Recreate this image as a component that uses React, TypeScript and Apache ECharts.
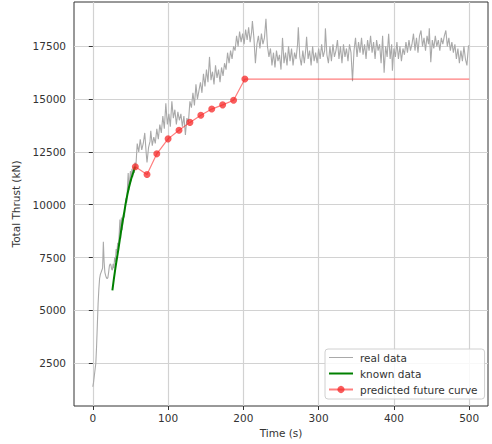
import React, { useEffect, useRef } from "react";
import * as echarts from "echarts";

const xTicks = [0, 100, 200, 300, 400, 500];
const yTicks = [2500, 5000, 7500, 10000, 12500, 15000, 17500];

const realData: number[][] = [
  [0,1380],[1,1600],[2,1900],[3,2200],[4,2500],[5,3300],[6,4300],[7,5300],[8,6000],[9,6500],[10,6700],[11,6800],[12,6900],[13,7000],[14,8250],[15,7300],[16,6800],[17,6650],[18,6550],[19,6500],[20,6550],[21,6800],[22,7100],[23,7200],[24,7150],[25,6950],[26,6900],[27,7200],[28,7000],[29,7500],[30,7300],[31,7900],[32,7700],[33,8200],[34,7900],[35,8600],[36,9300],[37,8400],[38,9400],[39,8800],[40,9200],[41,9600],[42,9400],[43,10000],[44,10300],[45,10100],[46,10800],[47,11500],[48,10700],[49,11200],[50,11600],[51,11100],[52,11700],[53,11300],[54,11800],[55,11500],[56,12000],[57,11700],[58,12300],[59,12900],
  [61,12500],[63,13100],[65,12600],[67,12900],[69,13400],[71,12400],[72,12000],[74,12700],[76,13000],[77,13500],[79,12800],[81,13200],[83,12900],[85,13600],[87,13100],[89,13800],[91,13400],[93,14200],[95,13600],[97,14800],[99,13800],[101,14300],[103,13700],[105,14900],[107,14100],[109,14500],[111,13800],[113,14400],[115,14000],[117,14300],[119,13700],[121,14200],[123,13300],[125,14100],[127,13900],[129,14900],[131,14600],[133,15300],[135,14700],[137,15700],[139,15000],[141,15400],[143,15800],[145,15300],[147,16200],[149,15600],[151,16400],[153,15800],[155,17000],[157,15900],[159,16300],[161,15700],[163,16600],[165,16000],[167,16400],[169,15800],[171,16500],[173,16100],[175,16700],[177,16400],[179,17200],[181,16700],[183,17300],[185,16900],[187,17500],[189,17300],[191,18000],[193,17500],[195,18200],[197,17700],[199,18100],[201,17600],[203,18300],[205,17800],[207,18400],[209,17700],[211,18200],[212,18700],[214,17900],[216,16700],[218,17600],[220,18000],[222,17400],[224,18100],[226,17600],[228,17900],[230,18800],[232,17500],[234,17000],[236,17400],[238,16600],[240,17200],[242,16500],[244,17300],[246,16800],[248,17100],[250,16400],[252,17900],[254,16700],[256,17200],[258,16600],[260,17500],[262,16800],[264,17400],[266,16600],[268,17200],[270,16900],[272,17600],[273,18400],[275,17000],[277,16600],[279,17300],[281,16700],[283,17400],[284,17950],[286,16900],[288,17300],[290,16600],[292,17500],[294,16800],[296,17200],[298,16700],[300,17400],[302,16900],[304,17600],[306,17000],[308,17300],[309,18350],[311,17100],[313,16700],[315,17500],[317,16800],[319,17600],[321,17000],[323,17300],[325,17800],[327,16900],[329,17500],[331,16700],[333,17600],[335,17000],[337,17400],[339,16800],[341,17600],[343,17200],[345,15850],[347,17300],[349,17900],[351,17000],[353,17700],[355,17200],[357,17900],[359,17100],[361,17600],[363,16900],[365,17800],[367,17300],[369,18000],[371,17200],[373,17700],[375,16900],[377,17800],[379,17300],[381,17600],[383,16700],[385,18000],[387,16250],[389,17500],[391,17000],[393,18100],[395,16900],[397,17600],[398,16350],[400,17400],[402,17000],[404,17700],[406,16900],[408,17500],[410,16800],[412,17400],[414,17100],[416,17700],[418,17200],[420,17800],[422,17300],[424,17600],[426,18100],[428,17300],[430,17900],[432,17200],[434,18000],[436,18250],[438,17500],[440,17900],[442,17300],[444,18000],[446,17600],[447,18350],[449,16750],[451,17800],[453,17400],[455,18000],[457,17500],[459,17800],[461,17300],[463,17900],[465,17600],[467,18000],[469,18250],[471,17500],[473,17900],[475,17300],[477,17700],[479,17200],[481,17600],[483,16900],[485,17400],[487,16700],[489,17300],[491,16800],[493,17500],[495,16900],[497,16600],[499,17500],[500,17550]
];

const knownTimes = [26, 30, 34, 38, 42, 46, 50, 54, 56.5];
const knownValues = [5950, 7000, 7900, 8850, 9700, 10500, 11100, 11550, 11800];

const predTimes = [56.5, 72, 85, 100, 114.5, 129, 143.5, 158, 172.5, 187, 202, 500];
const predValues = [11800, 11430, 12410, 13120, 13530, 13900, 14240, 14530, 14730, 14950, 15950, 15950];

const FONT = "DejaVu Sans";

export default function App() {
  const ref = useRef<HTMLDivElement>(null);
  useEffect(() => {
    document.body.style.margin = "0";
    if (!ref.current) return;
    const chart = echarts.init(ref.current, undefined, { renderer: "svg" });
    const knownData = knownTimes.map((t, i) => [t, knownValues[i]]);
    const predData = predTimes.map((t, i) =>
      i === predTimes.length - 1
        ? { value: [t, predValues[i]], symbol: "none" }
        : [t, predValues[i]]
    );
    const axisCommon = {
      type: "value" as const,
      axisLine: { show: false },
      axisTick: { show: true, inside: false, length: 4, lineStyle: { color: "#333", width: 1 } },
      splitLine: { show: true, lineStyle: { color: "#d2d2d2", width: 1.2 } },
    };
    chart.setOption({
      animation: false,
      backgroundColor: "#ffffff",
      grid: {
        left: 74, right: 4, top: 2, bottom: 38,
        show: true, borderColor: "#333", borderWidth: 1,
        containLabel: false, outerBoundsMode: "none",
      },
      xAxis: {
        ...axisCommon,
        min: -25, max: 525,
        axisTick: { ...axisCommon.axisTick, customValues: xTicks },
        axisLabel: {
          customValues: xTicks, margin: 6, color: "#333", fontFamily: FONT, fontSize: 10.5,
          formatter: (v: number) => String(v),
        },
        name: "Time (s)", nameLocation: "middle", nameGap: 20,
        nameTextStyle: { color: "#333", fontFamily: FONT, fontSize: 10.5 },
      },
      yAxis: {
        ...axisCommon,
        min: 470, max: 19600,
        axisTick: { ...axisCommon.axisTick, customValues: yTicks },
        axisLabel: {
          customValues: yTicks, margin: 8, color: "#333", fontFamily: FONT, fontSize: 10.5,
          formatter: (v: number) => String(v),
        },
        name: "Total Thrust (kN)", nameLocation: "middle", nameGap: 47,
        nameTextStyle: { color: "#333", fontFamily: FONT, fontSize: 10.5 },
      },
      legend: {
        orient: "vertical", left: 325, top: 349,
        padding: [3, 7, 4, 3],
        itemWidth: 24, itemHeight: 9, itemGap: 5,
        backgroundColor: "rgba(255,255,255,0.85)",
        borderColor: "#d0d0d0", borderWidth: 1, borderRadius: 3,
        textStyle: { color: "#333", fontFamily: FONT, fontSize: 10.5, padding: [0, 0, 0, 2] },
        data: [
          { name: "real data", icon: "path://M0,0H24V1H0Z" },
          { name: "known data", icon: "path://M0,0H12V1H0Z" },
          { name: "predicted future curve" },
        ],
      },
      series: [
        {
          name: "real data", type: "line", data: realData,
          showSymbol: false, symbol: "none",
          lineStyle: { color: "#a9a9a9", width: 1.1 }, itemStyle: { color: "#a9a9a9" },
        },
        {
          name: "known data", type: "line", data: knownData, smooth: true,
          showSymbol: false, symbol: "none",
          lineStyle: { color: "#008000", width: 2 }, itemStyle: { color: "#008000" },
        },
        {
          name: "predicted future curve", type: "line", data: predData,
          symbol: "circle", symbolSize: 7,
          lineStyle: { color: "rgba(255,40,40,0.6)", width: 1.2 },
          itemStyle: { color: "rgba(245,40,40,0.75)" },
        },
      ],
    });
    return () => chart.dispose();
  }, []);
  return <div ref={ref} style={{ width: 492, height: 444 }} />;
}
